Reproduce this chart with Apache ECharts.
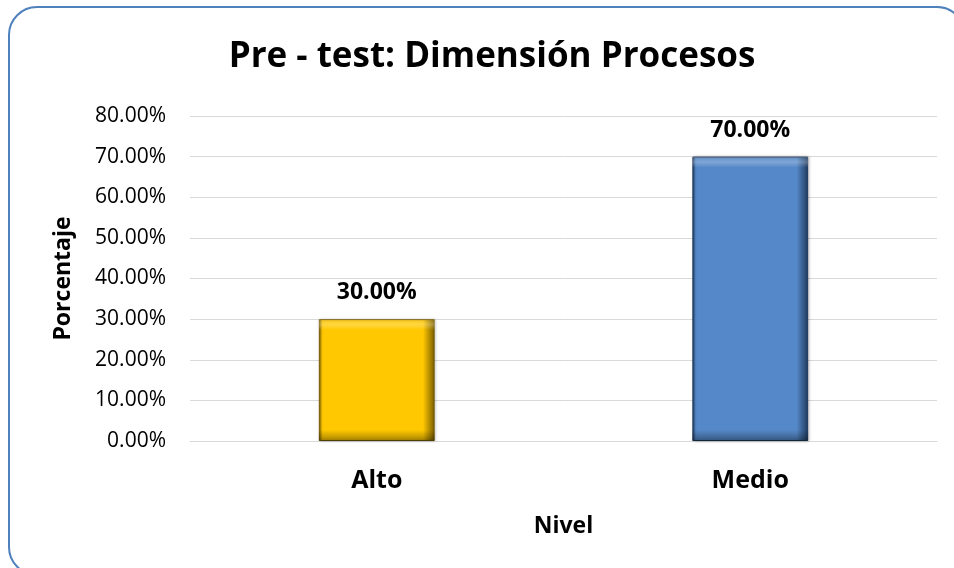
<!DOCTYPE html>
<html><head><meta charset="utf-8">
<script src="https://cdn.jsdelivr.net/npm/echarts@6/dist/echarts.min.js"></script>
<style>html,body{margin:0;padding:0;background:#fff}#c{width:954px;height:568px}</style>
</head><body><div id="c"></div>
<script>
const categories = ['Alto', 'Medio'];
const values = [30, 70];
const barColors = [['#FFC800', '#7A5E00', '#FFE25A'], ['#5588C8', '#1F3A5E', '#8DB4E8']];
const titleText = 'Pre - test: Dimensión Procesos';
const yName = 'Porcentaje';
const xName = 'Nivel';
const font = 'Open Sans';

function grad(c) {
  return new echarts.graphic.LinearGradient(0, 0, 1, 0, [
    {offset: 0, color: c[1]}, {offset: 0.03, color: c[0]},
    {offset: 0.9, color: c[0]}, {offset: 1, color: c[1]}
  ]);
}
function vgrad(v) {
  const px = v * 4.06, e = Math.min(0.45, 11 / px);
  return new echarts.graphic.LinearGradient(0, 0, 0, 1, [
    {offset: 0, color: 'rgba(255,255,255,0.1)'}, {offset: e * 0.5, color: 'rgba(255,255,255,0.25)'},
    {offset: e, color: 'rgba(255,255,255,0)'}, {offset: 1 - e, color: 'rgba(0,0,0,0)'},
    {offset: 1, color: 'rgba(0,0,0,0.35)'}
  ]);
}
const chart = echarts.init(document.getElementById('c'));
chart.setOption({
  animation: false,
  title: {text: titleText, left: 487, top: 35, textAlign: 'center',
    textStyle: {fontFamily: font, fontWeight: 'bold', fontSize: 35, color: '#000'}},
  graphic: [{type: 'rect', shape: {x: 9, y: 7, width: 956, height: 568, r: 28},
    style: {fill: 'none', stroke: '#4F81BD', lineWidth: 2}, silent: true}],
  grid: {left: 190, right: 17, top: 116, bottom: 127},
  xAxis: {type: 'category', data: categories, name: xName, nameLocation: 'middle', nameGap: 74,
    nameTextStyle: {fontFamily: font, fontWeight: 'bold', fontSize: 23, color: '#000'},
    axisTick: {show: false}, axisLine: {lineStyle: {color: '#d9d9d9'}},
    axisLabel: {fontFamily: font, fontWeight: 'bold', fontSize: 25, color: '#000', margin: 27}},
  yAxis: {type: 'value', min: 0, max: 80, interval: 10, name: yName, nameLocation: 'middle', nameGap: 115,
    nameTextStyle: {fontFamily: font, fontWeight: 'bold', fontSize: 23, color: '#000'},
    axisLine: {show: false}, axisTick: {show: false},
    splitLine: {lineStyle: {color: '#d9d9d9', width: 1}},
    axisLabel: {fontFamily: font, fontSize: 21, color: '#000', margin: 24,
      formatter: v => v.toFixed(2) + '%'}},
  series: [{type: 'bar', barWidth: '31%',
    data: values.map((v, i) => ({value: v, itemStyle: {color: grad(barColors[i]),
      borderColor: barColors[i][1], borderWidth: 1, shadowColor: 'rgba(0,0,0,0.25)', shadowBlur: 3, shadowOffsetX: 1}})),
    label: {show: true, position: 'top', distance: 15, fontFamily: font, fontWeight: 'bold', fontSize: 23, color: '#000',
      formatter: p => p.value.toFixed(2) + '%'}},
   {type: 'bar', barWidth: '31%', barGap: '-100%', silent: true,
    data: values.map(v => ({value: v, itemStyle: {color: vgrad(v)}}))}]
});
</script></body></html>
